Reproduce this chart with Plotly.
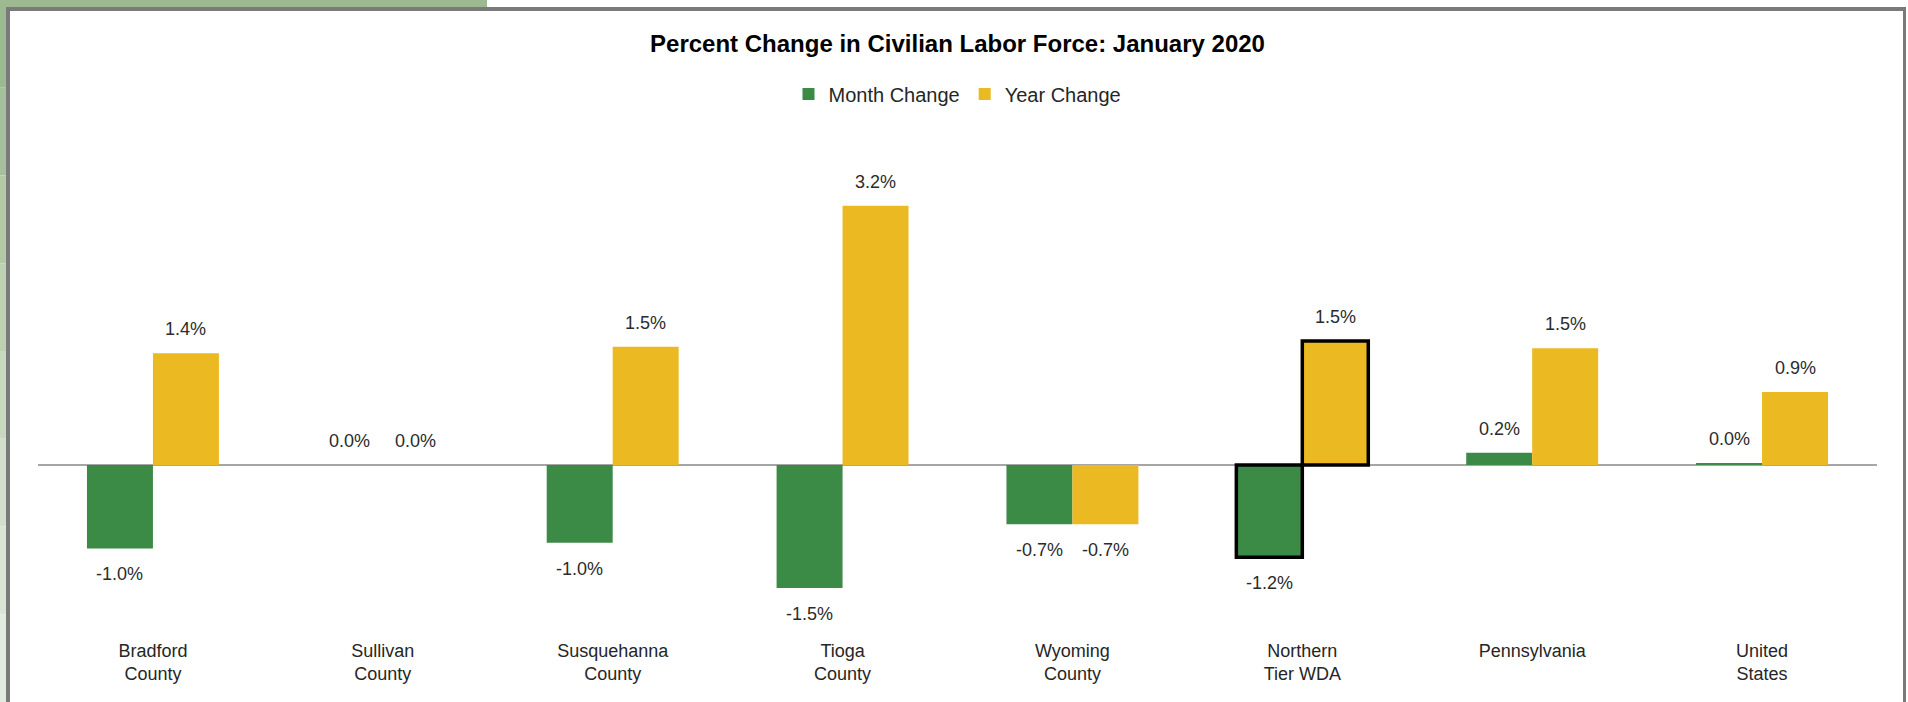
import plotly.graph_objects as go

# ---------------- data ----------------
categories = ["Bradford<br>County", "Sullivan<br>County", "Susquehanna<br>County",
              "Tioga<br>County", "Wyoming<br>County", "Northern<br>Tier WDA",
              "Pennsylvania", "United<br>States"]
month_change = [-1.03, 0.0, -0.96, -1.52, -0.73, -1.14, 0.15, 0.02]
year_change = [1.38, 0.0, 1.46, 3.20, -0.73, 1.53, 1.44, 0.90]
month_labels = ["-1.0%", "0.0%", "-1.0%", "-1.5%", "-0.7%", "-1.2%", "0.2%", "0.0%"]
year_labels = ["1.4%", "0.0%", "1.5%", "3.2%", "-0.7%", "1.5%", "1.5%", "0.9%"]
highlight = "Northern<br>Tier WDA"
title_text = "Percent Change in Civilian Labor Force: January 2020"

# ---------------- style ----------------
W, H = 1908, 702
L, R, T, B = 38, 31, 120, 74
GREEN = "#3b8a45"
YELLOW = "#ebb921"
FONT = "Liberation Sans, Arial, sans-serif"
BARGAP = 0.426
PX_PER_UNIT = 81.0
ZERO_Y = 465

plot_h = H - T - B
ymax = (ZERO_Y - T) / PX_PER_UNIT
ymin = -(H - B - ZERO_Y) / PX_PER_UNIT

line_w = [3.5 if c == highlight else 0 for c in categories]

fig = go.Figure()
fig.add_trace(go.Bar(x=categories, y=month_change, name="Month Change",
                     marker=dict(color=GREEN, line=dict(color="black", width=line_w))))
fig.add_trace(go.Bar(x=categories, y=year_change, name="Year Change",
                     marker=dict(color=YELLOW, line=dict(color="black", width=line_w))))

# data labels
off = (1 - BARGAP) / 4
annotations = []
for series, labels, sign in [(month_change, month_labels, -1), (year_change, year_labels, 1)]:
    for i, (v, lab) in enumerate(zip(series, labels)):
        pos = v >= 0
        annotations.append(dict(
            x=i + sign * off, y=v, xref="x", yref="y", text=lab, showarrow=False,
            yanchor="bottom" if pos else "top", yshift=12 if pos else -14,
            font=dict(family=FONT, size=18, color="#2b2b2b")))


def px_x(p):
    return (p - L) / (W - L - R)


def px_y(p):
    return 1 - (p - T) / plot_h


shapes = []
# green frame accents (outside chart border)
shapes.append(dict(type="rect", xref="paper", yref="paper", x0=px_x(0), x1=px_x(487),
                   y0=px_y(0), y1=px_y(7), fillcolor="#9cb98f", line=dict(width=0), layer="above"))
strip_cols = ["#9cb98f", "#a7c09b", "#b3c9a8", "#bfd1b5", "#c9d8c1", "#d3dfcc", "#dbe5d6", "#e3eadf"]
n = len(strip_cols)
for k, c in enumerate(strip_cols):
    shapes.append(dict(type="rect", xref="paper", yref="paper", x0=px_x(0), x1=px_x(6),
                       y0=px_y(H * k / n), y1=px_y(H * (k + 1) / n),
                       fillcolor=c, line=dict(width=0), layer="above"))
# gray chart border
GRAY = "#7a7a7a"
shapes.append(dict(type="rect", xref="paper", yref="paper", x0=px_x(6), x1=px_x(1906),
                   y0=px_y(7), y1=px_y(11), fillcolor=GRAY, line=dict(width=0), layer="above"))
shapes.append(dict(type="rect", xref="paper", yref="paper", x0=px_x(6), x1=px_x(10),
                   y0=px_y(7), y1=px_y(H), fillcolor=GRAY, line=dict(width=0), layer="above"))
shapes.append(dict(type="rect", xref="paper", yref="paper", x0=px_x(1903), x1=px_x(1906),
                   y0=px_y(7), y1=px_y(H), fillcolor=GRAY, line=dict(width=0), layer="above"))

fig.update_layout(
    width=W, height=H,
    margin=dict(l=L, r=R, t=T, b=B, autoexpand=False),
    paper_bgcolor="white", plot_bgcolor="white",
    barmode="group", bargap=BARGAP, bargroupgap=0,
    title=dict(text="<b>" + title_text + "</b>", x=0.5, xref="paper",
               y=1 - 44 / H, yref="container", yanchor="middle", xanchor="center",
               font=dict(family=FONT, size=24, color="black")),
    legend=dict(orientation="h", x=0.5, xanchor="center", yref="container",
                y=1 - 94 / H, yanchor="middle",
                font=dict(family=FONT, size=20, color="#262626"),
                itemwidth=30, tracegroupgap=0),
    showlegend=True,
    xaxis=dict(showgrid=False, showline=False, ticks="", zeroline=False,
               ticklabelstandoff=10,
               tickfont=dict(family=FONT, size=18, color="#262626")),
    yaxis=dict(range=[ymin, ymax], showgrid=False, showticklabels=False, ticks="",
               showline=False, zeroline=True, zerolinecolor="#a6a6a6", zerolinewidth=1.5),
    annotations=annotations,
    shapes=shapes,
)

fig.write_html("out.html", config={"displayModeBar": False},
               post_script="document.body.style.margin='0';")
